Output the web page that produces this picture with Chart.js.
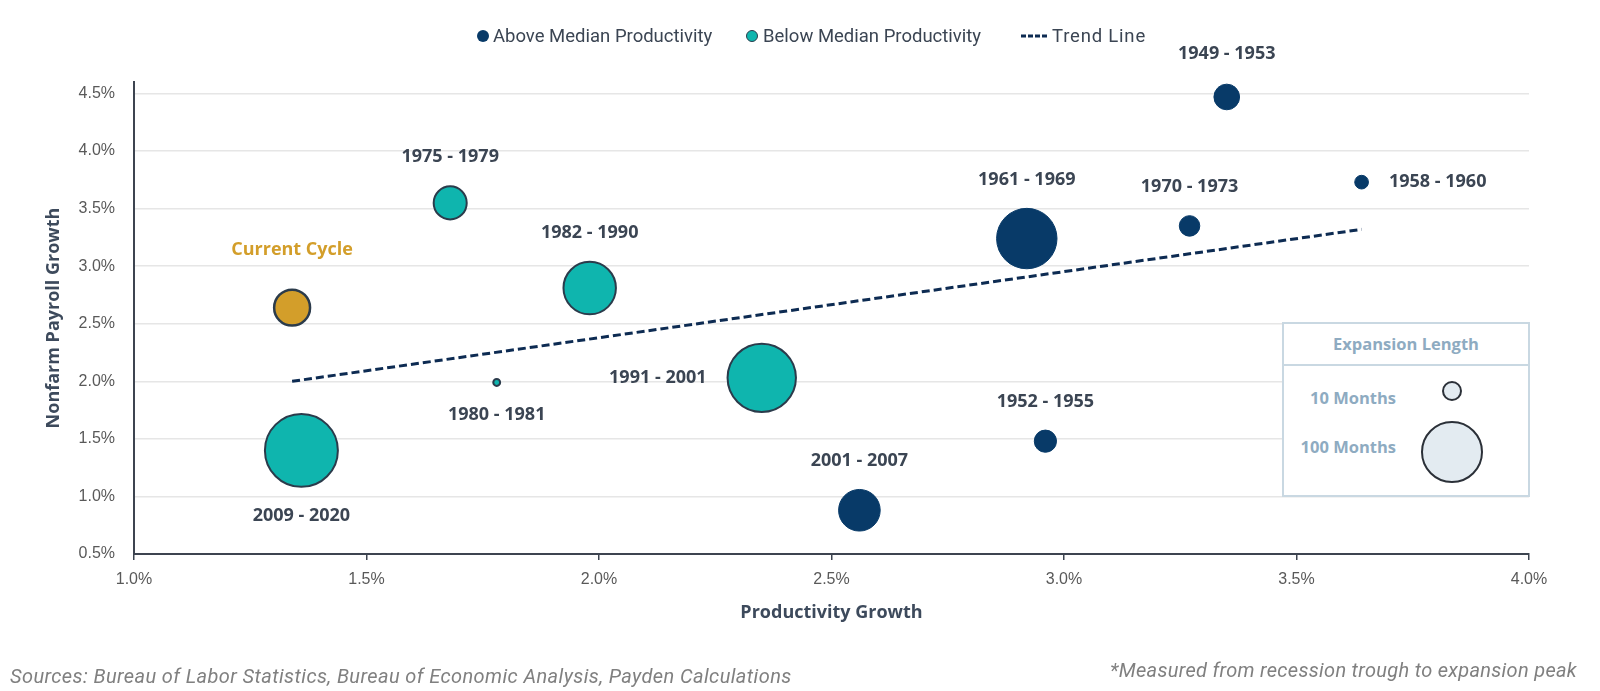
<!DOCTYPE html>
<html>
<head>
<meta charset="utf-8">
<script src="https://cdn.jsdelivr.net/npm/chart.js@4.4.1/dist/chart.umd.min.js"></script>
<style>
  body { margin: 0; background: #fff; }
  #wrap { position: relative; width: 1600px; height: 691px; font-family: Roboto, "Open Sans", sans-serif; }
  canvas { position: absolute; left: 0; top: 0; }
  .lg { position: absolute; top: 24px; height: 24px; display: flex; align-items: center; font-size: 18.5px; color: #3b4553; white-space: nowrap; }
  .dot { display: inline-block; width: 12px; height: 12px; border-radius: 50%; box-sizing: border-box; margin-right: 4px; }
  #sizeKey { position: absolute; left: 1282px; top: 322px; width: 248px; height: 175px; box-sizing: border-box;
             border: 2px solid #c9d8e2; background: #fff; font-family: "Open Sans", sans-serif; font-weight: 700; color: #8eabc1; }
  #sizeKey .head { height: 40px; border-bottom: 2px solid #c9d8e2; text-align: center; line-height: 40px; font-size: 16.5px; }
  #sizeKey .row { position: absolute; right: 132px; font-size: 16.5px; white-space: nowrap; }
  #sizeKey .circ { position: absolute; border-radius: 50%; border: 2px solid #2b3038; background: #e3ebf1; box-sizing: border-box; }
  .note { position: absolute; font-style: italic; font-size: 20px; color: #808080; white-space: nowrap; }
</style>
</head>
<body>
<div id="wrap">
  <canvas id="chart" width="1600" height="691"></canvas>

  <div class="lg" style="left:477px"><span class="dot" style="background:#083a68"></span>Above Median Productivity</div>
  <div class="lg" style="left:746px"><span class="dot" style="background:#0fb5ae;border:1.5px solid #2b3b4b;margin-right:5px"></span>Below Median Productivity</div>
  <div class="lg" style="left:1021px"><svg width="26" height="4" style="margin-right:5px"><line x1="0" y1="2" x2="26" y2="2" stroke="#0d2b52" stroke-width="3" stroke-dasharray="5 2"/></svg><span style="letter-spacing:0.8px">Trend Line</span></div>

  <div id="sizeKey">
    <div class="head">Expansion Length</div>
    <div class="row" style="top:62px">10 Months</div>
    <div class="circ" style="left:158px;top:57px;width:20px;height:20px"></div>
    <div class="row" style="top:111px">100 Months</div>
    <div class="circ" style="left:137px;top:97px;width:62px;height:62px"></div>
  </div>

  <div class="note" style="left:10px;top:664px;letter-spacing:0.4px">Sources: Bureau of Labor Statistics, Bureau of Economic Analysis, Payden Calculations</div>
  <div class="note" style="right:23px;top:658px;letter-spacing:0.3px">*Measured from recession trough to expansion peak</div>
</div>

<script>
// Values
const cycles = ['Current Cycle', '1975 - 1979', '1982 - 1990', '2009 - 2020', '1980 - 1981', '1991 - 2001',
                '2001 - 2007', '1961 - 1969', '1952 - 1955', '1970 - 1973', '1949 - 1953', '1958 - 1960'];
const productivity = [1.34, 1.68, 1.98, 1.36, 1.78, 2.35, 2.56, 2.92, 2.96, 3.27, 3.35, 3.64];
const payroll = [2.64, 3.55, 2.81, 1.40, 1.99, 2.03, 0.88, 3.24, 1.48, 3.35, 4.47, 3.73];
const months = [63, 58, 92, 128, 12, 120, 73, 106, 39, 36, 45, 24];
const group = ['current', 'below', 'below', 'below', 'below', 'below',
               'above', 'above', 'above', 'above', 'above', 'above'];
const trendX = [1.34, 3.64];
const trendY = [2.00, 3.32];
const xTicks = [1.0, 1.5, 2.0, 2.5, 3.0, 3.5, 4.0];
const yTicks = [0.5, 1.0, 1.5, 2.0, 2.5, 3.0, 3.5, 4.0, 4.5];

// bubble radius in px per month of expansion
const PX_PER_MONTH = 0.285;

function points(g) {
    return cycles.map((name, i) => ({ name, x: productivity[i], y: payroll[i], r: months[i] * PX_PER_MONTH }))
        .filter((p, i) => group[i] === g);
}

// where each label sits relative to its bubble, default is above
const labelPlace = {
    'Current Cycle': ['top', 39],
    '2009 - 2020': ['bottom', 28],
    '1980 - 1981': ['bottom', 28],
    '1991 - 2001': ['left', 20],
    '1958 - 1960': ['right', 20],
    '1949 - 1953': ['top', 30]
};

const bubbleLabels = {
    id: 'bubbleLabels',
    afterDatasetsDraw(chart) {
        const ctx = chart.ctx;
        ctx.save();
        ctx.font = 'bold 18px "Open Sans"';
        ctx.textBaseline = 'middle';
        chart.data.datasets.forEach((ds, i) => {
            if (ds.type === 'line') return;
            const meta = chart.getDatasetMeta(i);
            meta.data.forEach((el, j) => {
                const name = ds.data[j].name;
                const [side, gap] = labelPlace[name] || ['top', 28];
                const r = el.options.radius + el.options.borderWidth / 2;
                let x = el.x, y = el.y;
                ctx.textAlign = 'center';
                if (side === 'top') y -= r + gap;
                if (side === 'bottom') y += r + gap;
                if (side === 'left') { x -= r + gap; ctx.textAlign = 'right'; }
                if (side === 'right') { x += r + gap; ctx.textAlign = 'left'; }
                ctx.fillStyle = name === 'Current Cycle' ? '#d39e2a' : '#3b4553';
                ctx.fillText(name, x, y);
            });
        });
        ctx.restore();
    }
};

const pct = v => Number(v).toFixed(1) + '%';

new Chart(document.getElementById('chart'), {
    type: 'bubble',
    data: {
        datasets: [
            {
                label: 'Current Cycle',
                data: points('current'),
                backgroundColor: '#d39e2a',
                borderColor: '#2b3b4b',
                borderWidth: 2.5
            },
            {
                label: 'Above Median Productivity',
                data: points('above'),
                backgroundColor: '#083a68',
                borderColor: '#083a68',
                borderWidth: 1
            },
            {
                label: 'Below Median Productivity',
                data: points('below'),
                backgroundColor: '#0fb5ae',
                borderColor: '#2b3b4b',
                borderWidth: 2
            },
            {
                type: 'line',
                label: 'Trend Line',
                data: trendX.map((x, i) => ({ x, y: trendY[i] })),
                borderColor: '#0d2b52',
                borderWidth: 3,
                borderDash: [8, 4],
                pointRadius: 0,
                fill: false
            }
        ]
    },
    options: {
        responsive: false,
        animation: false,
        events: [],
        layout: { padding: { top: 82, right: 71, bottom: 60, left: 0 } },
        plugins: {
            legend: { display: false },
            tooltip: { enabled: false }
        },
        scales: {
            x: {
                type: 'linear',
                min: 1.0,
                max: 4.0,
                afterBuildTicks: s => { s.ticks = xTicks.map(v => ({ value: v })); },
                afterFit: s => { s.height = 77; },
                grid: { drawOnChartArea: false, drawTicks: true, tickLength: 6, color: '#3d4450', lineWidth: 1.5 },
                border: { display: true, color: '#3d4450', width: 2 },
                ticks: { callback: pct, color: '#595959', padding: 10, font: { family: 'Liberation Sans', size: 16 } },
                title: {
                    display: true,
                    text: 'Productivity Growth',
                    color: '#3d4a5c',
                    font: { family: 'Open Sans', size: 18, weight: 'bold' },
                    padding: { top: 0, bottom: 7 }
                }
            },
            y: {
                type: 'linear',
                min: 0.5,
                max: 4.6,
                afterBuildTicks: s => { s.ticks = yTicks.map(v => ({ value: v })); },
                afterFit: s => { s.width = 134; },
                grid: { drawTicks: false, color: '#e6e6e6', lineWidth: 1.5 },
                border: { display: true, color: '#3d4450', width: 2 },
                ticks: { callback: pct, color: '#595959', padding: 19, font: { family: 'Liberation Sans', size: 16 } },
                title: {
                    display: true,
                    text: 'Nonfarm Payroll Growth',
                    color: '#3d4a5c',
                    font: { family: 'Open Sans', size: 18, weight: 'bold' },
                    padding: { top: 43, bottom: 0 }
                }
            }
        }
    },
    plugins: [bubbleLabels]
});
</script>
</body>
</html>
